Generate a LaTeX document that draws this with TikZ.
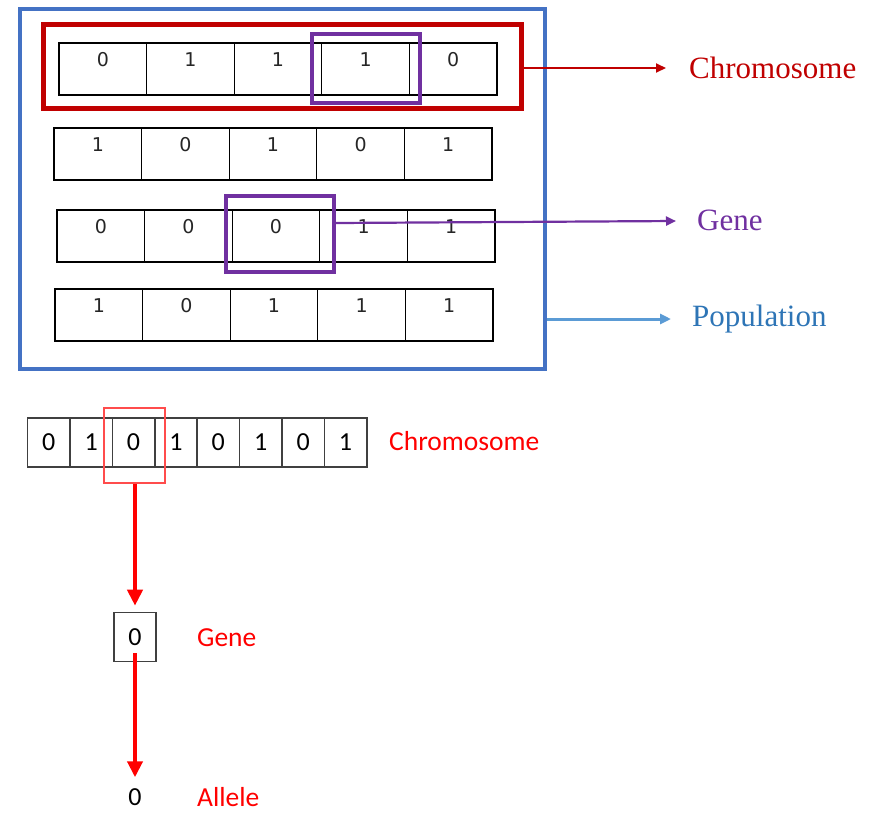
\documentclass[tikz,border=0pt]{standalone}
\usepackage{fontspec}
\setmainfont{Liberation Serif}
\newfontfamily\bitfont{DejaVu Sans}
\newfontfamily\califont{Carlito}
\usetikzlibrary{arrows.meta, positioning}

\definecolor{chromred}{HTML}{C00000}
\definecolor{genepurple}{HTML}{7030A0}
\definecolor{popblue}{HTML}{4472C4}
\definecolor{arrowblue}{HTML}{5B9BD5}
\definecolor{poptext}{HTML}{2E75B6}
\definecolor{cellgray}{HTML}{404040}

\begin{document}
\begin{tikzpicture}[x=1pt, y=-1pt,
	bit/.style={draw=black, line width=1.1pt, minimum width=87.6pt, minimum height=52pt, inner sep=0pt},
	bitnum/.style={font=\bitfont\fontsize{19}{21}\selectfont, text=black!85, inner sep=0pt},
	genebox/.style={draw=genepurple, line width=4pt, minimum width=108pt, inner sep=0pt},
	toplabel/.style={anchor=west, inner sep=0pt, font=\fontsize{31}{34}\selectfont},
	gbit/.style={draw=cellgray, line width=1.6pt, minimum width=42.4pt, minimum height=49pt, inner sep=0pt, font=\califont\fontsize{26}{28}\selectfont},
	redlabel/.style={anchor=west, inner sep=0pt, text=red, font=\califont\fontsize{27.5}{30}\selectfont},
	redarrow/.style={draw=red, line width=4pt, -{Triangle[length=16pt, width=15pt]}}
]
\useasboundingbox (0,0) rectangle (873,812);

% population: four chromosomes of five genes each
\foreach \row/\xo/\yo/\bits in {1/59/43/{0,1,1,1,0}, 2/54/128/{1,0,1,0,1}, 3/57/210/{0,0,0,1,1}, 4/55/289/{1,0,1,1,1}}
{
	\foreach \b [count=\i] in \bits
	{
		\node [bit] (r\row c\i) at (\xo+87.6*\i-43.8, \yo+26) {};
		\node [bitnum] (t\row c\i) at ([yshift=-17pt]r\row c\i.north) {\b};
	}
}

\node [draw=chromred, line width=5pt, minimum width=478pt, minimum height=84pt, inner sep=0pt] (chromBox) at (282,66) {};
\node [genebox, minimum height=69pt] (geneA) at (366,68.5) {};
\node [genebox, minimum height=76pt] (geneB) at (280,234) {};
\node [draw=popblue, line width=3.5pt, minimum width=525pt, minimum height=360pt, inner sep=0pt] (popBox) at (282.5,189) {};

\node [toplabel, text=chromred] (chromLabel) at (689,68) {Chromosome};
\node [toplabel, text=genepurple] (geneLabel) at (697,220) {Gene};
\node [toplabel, text=poptext] (popLabel) at (692,319) {Population};

\coordinate (chromTip) at (666,68);
\coordinate (geneTip) at (676,221);
\coordinate (popTip) at (671,319);

\draw [-{Triangle[length=10pt, width=9pt]}][chromred, line width=2pt] (chromBox.east |- chromTip) -- (chromTip);
\draw [-{Triangle[length=10pt, width=9pt]}][genepurple, line width=2.2pt] ([yshift=11pt]geneB.east) -- (geneTip);
\draw [-{Triangle[length=11pt, width=10pt]}][arrowblue, line width=3pt] (popBox.east |- popTip) -- (popTip);

% one chromosome, one gene, one allele
\foreach \b [count=\i] in {0,1,0,1,0,1,0,1}
{
	\node [gbit] (g\i) at (27.5+42.4*\i-21.2, 442.5) {\b};
}
\node [draw=red!70, line width=1.3pt, minimum width=61pt, minimum height=75pt, inner sep=0pt] (pick) at (134.5,445.5) {};
\node [redlabel] (chromText) at (389,441) {Chromosome};

\node [gbit] (geneCell) at (135,637) {0};
\node [redlabel] (geneText) at (197,638) {Gene};

\node [inner sep=0pt, font=\califont\fontsize{26}{28}\selectfont] (allele) at (135,797) {0};
\node [redlabel] (alleleText) at (197,797) {Allele};

\draw [redarrow] (geneCell |- pick.south) -- ([yshift=6pt]geneCell.north);
\draw [redarrow, shorten >=11pt] ([yshift=-16pt]geneCell.center) -- (allele.north);
\end{tikzpicture}
\end{document}
